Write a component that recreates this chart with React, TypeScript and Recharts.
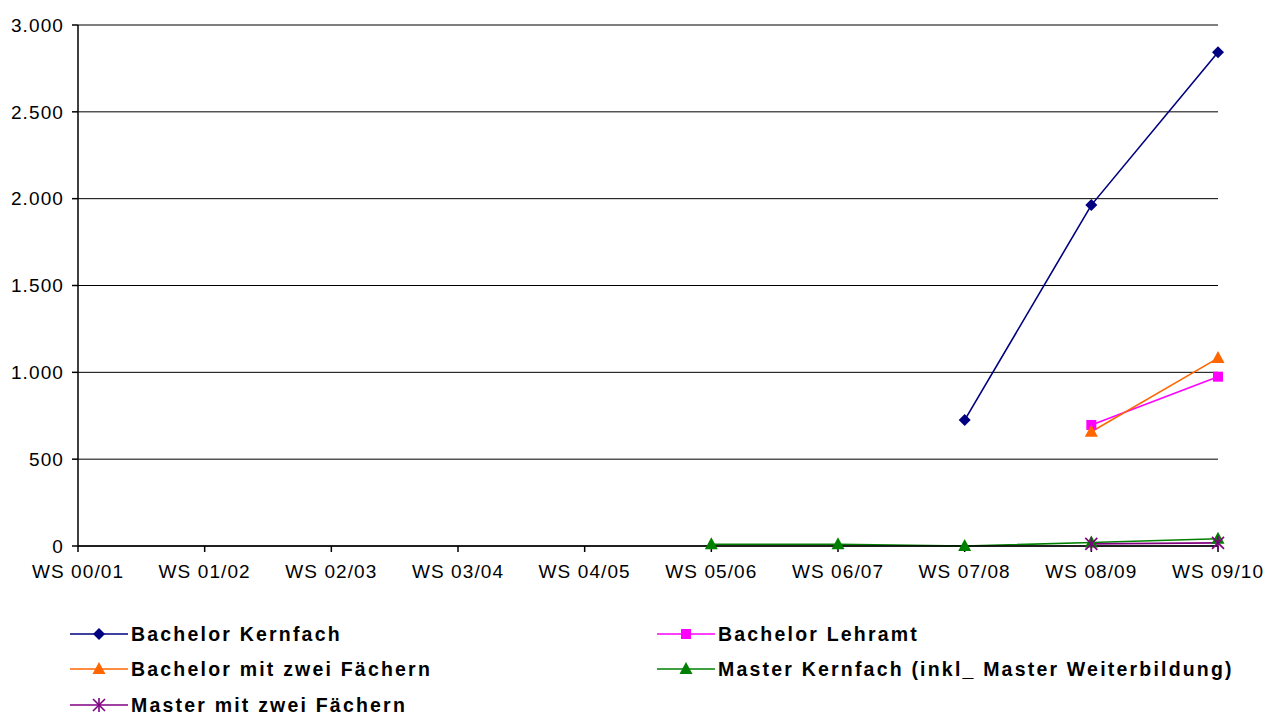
import React from "react";
import { CartesianGrid, Line, LineChart, XAxis, YAxis } from "recharts";

const semesters = ["WS 00/01", "WS 01/02", "WS 02/03", "WS 03/04", "WS 04/05", "WS 05/06", "WS 06/07", "WS 07/08", "WS 08/09", "WS 09/10"];
const bachelorKernfach = [null, null, null, null, null, null, null, 725, 1963, 2843];
const bachelorLehramt = [null, null, null, null, null, null, null, null, 697, 975];
const bachelorZwei = [null, null, null, null, null, null, null, null, 658, 1082];
const masterKernfach = [null, null, null, null, null, 10, 10, 0, 20, 42];
const masterZwei = [null, null, null, null, null, null, null, null, 12, 18];
const yTicks = [0, 500, 1000, 1500, 2000, 2500, 3000];

const series = [
  { key: "bk", name: "Bachelor Kernfach", values: bachelorKernfach, color: "#000080", shape: "diamond" },
  { key: "bl", name: "Bachelor Lehramt", values: bachelorLehramt, color: "#FF00FF", shape: "square" },
  { key: "bz", name: "Bachelor mit zwei Fächern", values: bachelorZwei, color: "#FF6600", shape: "triangle" },
  { key: "mk", name: "Master Kernfach (inkl_ Master Weiterbildung)", values: masterKernfach, color: "#008000", shape: "triangle" },
  { key: "mz", name: "Master mit zwei Fächern", values: masterZwei, color: "#800080", shape: "star" },
];

const data = semesters.map((s, i) => {
  const row: any = { name: s };
  series.forEach((se) => (row[se.key] = se.values[i]));
  return row;
});

const fmt = (v: number) => String(v).replace(/\B(?=(\d{3})+(?!\d))/g, ".");

function Marker({ cx, cy, shape, color }: any) {
  if (shape === "diamond")
    return <polygon points={`${cx},${cy - 6} ${cx + 6},${cy} ${cx},${cy + 6} ${cx - 6},${cy}`} fill={color} />;
  if (shape === "square") return <rect x={cx - 5} y={cy - 5} width={10} height={10} fill={color} />;
  if (shape === "triangle")
    return <polygon points={`${cx},${cy - 7} ${cx + 6.5},${cy + 5} ${cx - 6.5},${cy + 5}`} fill={color} />;
  return (
    <g stroke={color} strokeWidth={1.6}>
      <line x1={cx - 6} y1={cy - 6} x2={cx + 6} y2={cy + 6} />
      <line x1={cx - 6} y1={cy + 6} x2={cx + 6} y2={cy - 6} />
      <line x1={cx} y1={cy - 7} x2={cx} y2={cy + 7} />
    </g>
  );
}

const makeDot = (shape: string, color: string) => (props: any) => {
  const { cx, cy, value, index } = props;
  if (value === null || value === undefined || cy == null) return <g key={index} />;
  return (
    <g key={index}>
      <Marker cx={cx} cy={cy} shape={shape} color={color} />
    </g>
  );
};

const legendPos = [
  { x: 70, y: 634 },
  { x: 657, y: 634 },
  { x: 70, y: 669 },
  { x: 657, y: 669 },
  { x: 70, y: 705 },
];

const font = "'Liberation Sans', Arial, sans-serif";

export default function App() {
  return (
    <div style={{ position: "absolute", left: 0, top: 0, width: 1283, height: 716, background: "#fff" }}>
      <LineChart width={1283} height={600} data={data} margin={{ top: 25, right: 65, bottom: 14, left: 0 }}>
        <CartesianGrid horizontal vertical={false} stroke="#000" strokeOpacity={1} />
        <XAxis
          dataKey="name"
          interval={0}
          height={40}
          stroke="#000"
          strokeWidth={1.5}
          tickSize={6}
          tick={{ fill: "#000", fontSize: 19, fontFamily: font, letterSpacing: 1.1 }}
          tickMargin={13}
        />
        <YAxis
          domain={[0, 3000]}
          ticks={yTicks}
          width={78}
          stroke="#000"
          strokeWidth={1.5}
          tickSize={6}
          tickFormatter={fmt}
          tick={{ fill: "#000", fontSize: 19, fontFamily: font, letterSpacing: 1.1 }}
          tickMargin={8}
        />
        {series.map((s) => (
          <Line
            key={s.key}
            dataKey={s.key}
            name={s.name}
            stroke={s.color}
            strokeWidth={1.6}
            dot={makeDot(s.shape, s.color)}
            activeDot={false}
            isAnimationActive={false}
          />
        ))}
      </LineChart>
      <svg width={1283} height={116} style={{ position: "absolute", left: 0, top: 600 }}>
        {series.map((s, i) => {
          const p = legendPos[i];
          const y = p.y - 600;
          return (
            <g key={s.key}>
              <line x1={p.x} y1={y} x2={p.x + 58} y2={y} stroke={s.color} strokeWidth={1.6} />
              <Marker cx={p.x + 29} cy={y} shape={s.shape} color={s.color} />
              <text
                x={p.x + 61}
                y={y + 7}
                fontFamily={font}
                fontWeight="bold"
                fontSize={19.5}
                letterSpacing={2.2}
                fill="#000"
              >
                {s.name}
              </text>
            </g>
          );
        })}
      </svg>
    </div>
  );
}
